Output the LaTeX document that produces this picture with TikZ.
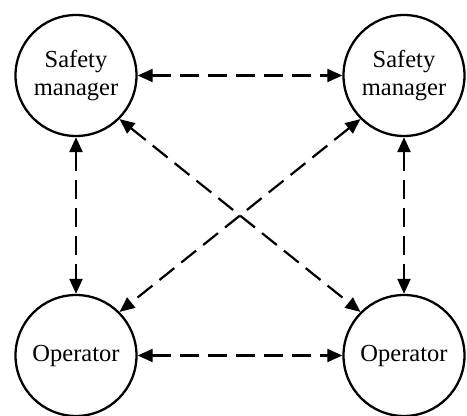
\documentclass[tikz,border=0pt]{standalone}
\usepackage{fontspec}
\setmainfont{Liberation Serif}
\usetikzlibrary{arrows.meta}
\begin{document}
\begin{tikzpicture}[x=1pt,y=1pt,
  agent/.style={circle,draw,line width=2.3pt,minimum size=121pt,inner sep=0pt,align=center,
    font=\fontsize{24.5}{28}\selectfont},
  link/.style={line width=2.2pt,dash pattern=on 19pt off 9pt,
    {Triangle[length=15pt,width=13pt]}-{Triangle[length=15pt,width=13pt]}}]
\useasboundingbox (0,0) rectangle (467,416);
\node[agent] (sm1) at (76,340.5) {Safety\\manager};
\node[agent] (sm2) at (404,340.5) {Safety\\manager};
\node[agent] (op1) at (76,60.5) {Operator};
\node[agent] (op2) at (404,60.5) {Operator};
\draw[link] (sm1.east) -- (sm2.west);
\draw[link] (op1.east) -- (op2.west);
\draw[link] (sm1.south) -- (op1.north);
\draw[link] (sm2.south) -- (op2.north);
\draw[link] (sm1.south east) -- (op2.north west);
\draw[link] (sm2.south west) -- (op1.north east);
\end{tikzpicture}
\end{document}
